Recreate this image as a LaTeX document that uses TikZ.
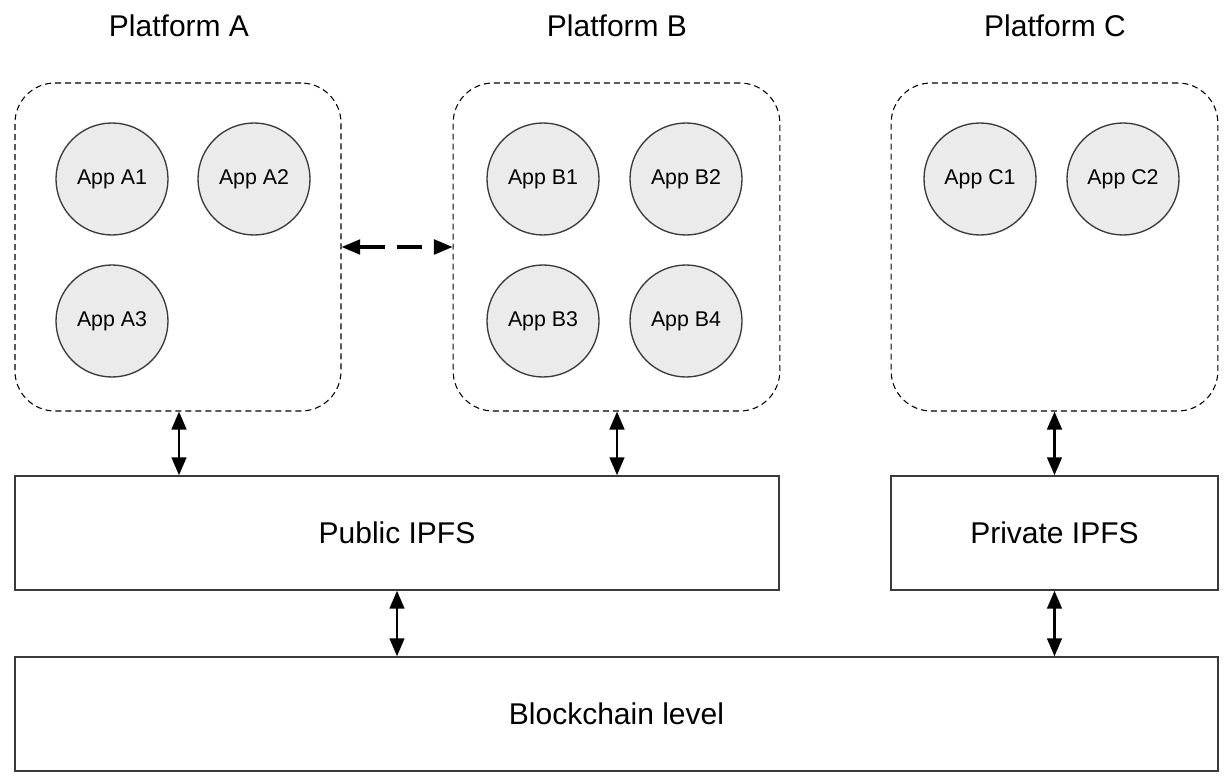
\documentclass[tikz,border=0pt]{standalone}
\usepackage{fontspec}
\setmainfont{Liberation Sans}
\usetikzlibrary{arrows.meta}
\definecolor{appfill}{HTML}{EBEBEB}
\definecolor{edge}{HTML}{3A3A3A}
\begin{document}
\begin{tikzpicture}[x=0.75pt,y=-0.75pt,
  platbox/.style={draw=black,line width=0.8pt,dash pattern=on 4.5pt off 3pt,rounded corners=30pt,inner sep=0pt,minimum width=245pt,minimum height=246pt},
  solidbox/.style={draw=edge,line width=1.1pt,inner sep=0pt,minimum height=85.5pt,font=\fontsize{22.5}{26}\selectfont},
  app/.style={circle,draw=edge,line width=1pt,fill=appfill,minimum size=84pt,inner sep=0pt,font=\fontsize{16}{18}\selectfont},
  title/.style={font=\fontsize{22.5}{26}\selectfont},
  arr/.style={line width=1.9pt,{Triangle[width=11pt,length=13.5pt]}-{Triangle[width=11pt,length=13.5pt]}},
  darr/.style={line width=2.4pt,dash pattern=on 19pt off 9pt,{Triangle[width=11pt,length=14pt]}-{Triangle[width=11pt,length=14pt]}}]
\useasboundingbox (0,0) rectangle (1225,777);

\node[title] (ta) at (179,26) {Platform A};
\node[title] (tb) at (617,26) {Platform B};
\node[title] (tc) at (1055,26) {Platform C};

\node[platbox,minimum width=244.5pt] (pa) at (178,247) {};
\node[platbox] (pb) at (616.5,247) {};
\node[platbox] (pc) at (1054.5,247) {};

\node[app] (a1) at (112,179) {App A1};
\node[app] (a2) at (254,179) {App A2};
\node[app] (a3) at (112,321) {App A3};
\node[app] (b1) at (543,179) {App B1};
\node[app] (b2) at (686,179) {App B2};
\node[app] (b3) at (543,321) {App B3};
\node[app] (b4) at (686,321) {App B4};
\node[app] (c1) at (980,179) {App C1};
\node[app] (c2) at (1123,179) {App C2};

\node[solidbox,minimum width=573pt] (pub) at (397,533) {Public IPFS};
\node[solidbox,minimum width=245.25pt] (priv) at (1054.5,533) {Private IPFS};
\node[solidbox,minimum width=902.25pt] (chain) at (616.5,714) {Blockchain level};

\coordinate (xa) at (179,0);
\coordinate (xb) at (617,0);

\draw[darr] (pa.east) -- (pb.west);
\draw[arr] (pa.south -| xa) -- (pub.north -| xa);
\draw[arr] (pb.south -| xb) -- (pub.north -| xb);
\draw[arr] (pc.south) -- (priv.north);
\draw[arr] (pub.south) -- (chain.north -| pub.south);
\draw[arr] (priv.south) -- (chain.north -| priv.south);
\end{tikzpicture}
\end{document}
